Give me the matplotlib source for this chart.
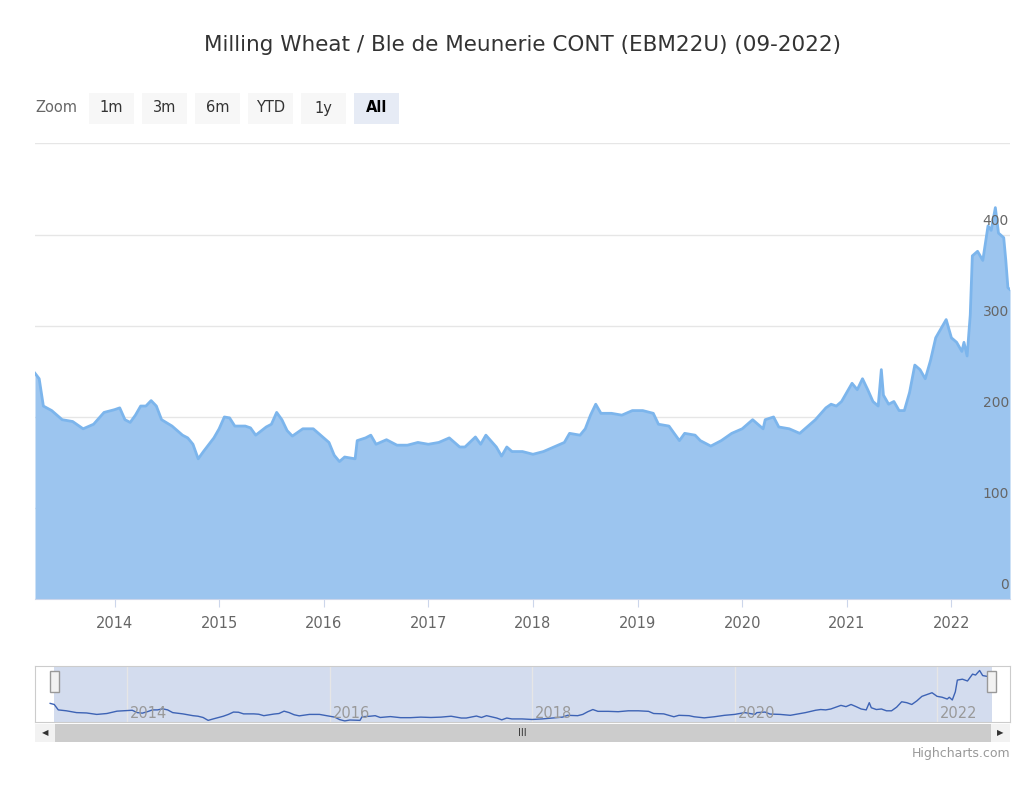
import matplotlib
matplotlib.use("Agg")
import matplotlib.pyplot as plt
from matplotlib.patches import Rectangle

t = [2013.24, 2013.28, 2013.32, 2013.4, 2013.5, 2013.6, 2013.7, 2013.8, 2013.9, 2014.0, 2014.05, 2014.1,
     2014.15, 2014.2, 2014.25, 2014.3, 2014.35, 2014.4, 2014.45, 2014.55, 2014.65, 2014.7, 2014.75, 2014.8,
     2014.85, 2014.95, 2015.0, 2015.05, 2015.1, 2015.15, 2015.25, 2015.3, 2015.35, 2015.45, 2015.5, 2015.55,
     2015.6, 2015.65, 2015.7, 2015.8, 2015.9, 2016.0, 2016.05, 2016.1, 2016.15, 2016.2, 2016.3, 2016.32,
     2016.4, 2016.45, 2016.5, 2016.6, 2016.7, 2016.8, 2016.9, 2017.0, 2017.1, 2017.2, 2017.3, 2017.35,
     2017.45, 2017.5, 2017.55, 2017.65, 2017.7, 2017.75, 2017.8, 2017.9, 2018.0, 2018.1, 2018.2, 2018.3,
     2018.35, 2018.45, 2018.5, 2018.55, 2018.6, 2018.65, 2018.75, 2018.85, 2018.95, 2019.05, 2019.15, 2019.2,
     2019.3, 2019.35, 2019.4, 2019.45, 2019.55, 2019.6, 2019.7, 2019.8, 2019.9, 2020.0, 2020.05, 2020.1,
     2020.15, 2020.2, 2020.22, 2020.3, 2020.35, 2020.45, 2020.55, 2020.6, 2020.7, 2020.8, 2020.85, 2020.9,
     2020.95, 2021.0, 2021.05, 2021.1, 2021.15, 2021.2, 2021.25, 2021.3, 2021.33, 2021.35, 2021.4, 2021.45,
     2021.5, 2021.55, 2021.6, 2021.65, 2021.7, 2021.75, 2021.8, 2021.85, 2021.9, 2021.95, 2022.0, 2022.05,
     2022.1, 2022.12, 2022.15, 2022.18, 2022.2, 2022.25, 2022.3, 2022.35, 2022.38, 2022.42, 2022.45, 2022.5,
     2022.52, 2022.54, 2022.56]
price = [248, 242, 212, 207, 197, 195, 187, 192, 205, 208, 210, 197,
         194, 202, 212, 212, 218, 212, 197, 190, 180, 177, 170, 154,
         162, 177, 187, 200, 199, 190, 190, 188, 180, 189, 192, 205,
         197, 185, 179, 187, 187, 177, 172, 158, 151, 156, 154, 174,
         177, 180, 170, 175, 169, 169, 172, 170, 172, 177, 167, 167,
         178, 170, 180, 167, 157, 167, 162, 162, 159, 162, 167, 172,
         182, 180, 187, 202, 214, 204, 204, 202, 207, 207, 204, 192,
         190, 182, 174, 182, 180, 174, 168, 174, 182, 187, 192, 197,
         192, 187, 197, 200, 189, 187, 182, 187, 197, 210, 214, 212,
         217, 227, 237, 230, 242, 230, 217, 212, 252, 224, 214, 217,
         207, 207, 227, 257, 252, 242, 262, 287, 297, 307, 287, 282,
         272, 282, 267, 312, 377, 382, 372, 410, 405, 430, 402, 397,
         372, 342, 340]
years = list(range(2014, 2023))
yticks = [0, 100, 200, 300, 400]

W, H = 1024, 798
fig = plt.figure(figsize=(W / 100, H / 100), dpi=100)
plt.rcParams['font.family'] = ['DejaVu Sans']

def ax_px(x0, y0, x1, y1):
    return fig.add_axes([x0 / W, 1 - y1 / H, (x1 - x0) / W, (y1 - y0) / H])

fig.text(523 / W, 1 - 45 / H, "Milling Wheat / Ble de Meunerie CONT (EBM22U) (09-2022)",
         ha='center', va='center', fontsize=15.5, color='#333333')

# zoom buttons
fig.text(35 / W, 1 - 108 / H, "Zoom", ha='left', va='center', fontsize=10.5, color='#666666')
btns = [("1m", 89, 134), ("3m", 142, 187), ("6m", 195, 240), ("YTD", 248, 293), ("1y", 301, 346), ("All", 354, 399)]
for lab, x0, x1 in btns:
    sel = lab == "All"
    fig.patches.append(Rectangle((x0 / W, 1 - 124 / H), (x1 - x0) / W, 31 / H, transform=fig.transFigure,
                                 facecolor='#e6ebf5' if sel else '#f7f7f7', edgecolor='none'))
    fig.text((x0 + x1) / 2 / W, 1 - 108 / H, lab, ha='center', va='center', fontsize=10.5,
             color='black' if sel else '#333333', fontweight='bold' if sel else 'normal')

# main chart
ax = ax_px(35, 143, 1010, 599)
ax.fill_between(t, price, 0, color='#9cc5ef', lw=0)
ax.plot(t, price, color='#7cb5ec', lw=2)
ax.set_xlim(2013.24, 2022.56)
ax.set_ylim(0, 501)
for y in yticks:
    ax.axhline(y, color='#e6e6e6', lw=1, zorder=0)
    ax.text(2022.55, y + 8, str(y), ha='right', va='bottom', fontsize=10, color='#666666')
ax.axhline(501, color='#e6e6e6', lw=1)
ax.set_yticks([])
ax.set_xticks(years)
ax.set_xticklabels([str(y) for y in years], fontsize=10.5, color='#666666')
ax.tick_params(axis='x', length=6, color='#ccd6eb', pad=6)
for s in ['top', 'left', 'right']:
    ax.spines[s].set_visible(False)
ax.spines['bottom'].set_color('#ccd6eb')
ax.set_zorder(1)

# navigator
nav = ax_px(35, 666, 1010, 722)
nav.set_xlim(2013.09, 2022.72)
nav.set_ylim(145, 455)
nav.axvspan(2013.28, 2022.54, color='#ccd6eb', alpha=0.85, lw=0, zorder=0)
nav.plot(t, price, color='#3d63b5', lw=1, zorder=2)
for y in years[::2]:
    nav.axvline(y, color='#e6e6e6', lw=1, zorder=1)
    nav.text(y + 0.03, 152, str(y), fontsize=10.5, color='#999999', va='bottom', zorder=3)
nav.set_xticks([])
nav.set_yticks([])
for s in nav.spines.values():
    s.set_color('#cccccc')
for hx in [2013.28, 2022.54]:
    nav.add_patch(Rectangle((hx - 0.045, 310), 0.09, 115, facecolor='#f2f2f2', edgecolor='#999999', lw=1, zorder=4))

# scrollbar
sb = ax_px(35, 724, 1010, 742)
sb.set_xlim(0, 1)
sb.set_ylim(0, 1)
sb.add_patch(Rectangle((0, 0), 1, 1, facecolor='#f2f2f2', edgecolor='none'))
sb.add_patch(Rectangle((0.02, 0), 0.96, 1, facecolor='#cccccc', edgecolor='none'))
sb.text(0.5, 0.5, "III", ha='center', va='center', fontsize=7, color='#333333')
sb.text(0.01, 0.5, "◀", ha='center', va='center', fontsize=6, color='#333333')
sb.text(0.99, 0.5, "▶", ha='center', va='center', fontsize=6, color='#333333')
sb.axis('off')

fig.text(1010 / W, 1 - 753 / H, "Highcharts.com", ha='right', va='center', fontsize=9, color='#999999')

fig.savefig("out.png", dpi=100)
